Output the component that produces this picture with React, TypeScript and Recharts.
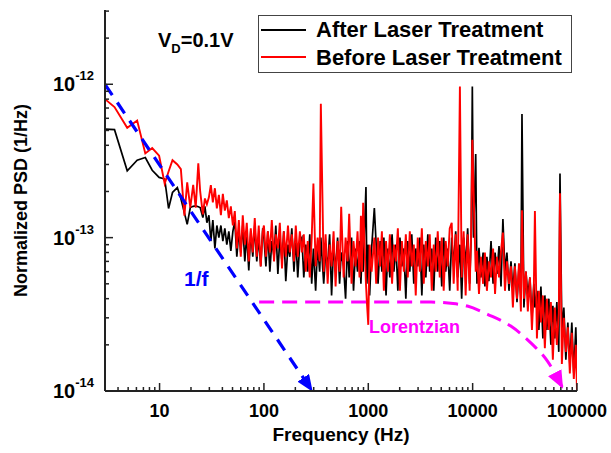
import React from 'react';
import { LineChart, Line, XAxis, YAxis, Legend } from 'recharts';

const FONT = '"Liberation Sans", Arial, Helvetica, sans-serif';
// PSD values below are given in units of 1e-14 1/Hz
const UNIT = 1e-14;

// frequency bins (Hz), shared by both measurements
const FREQ = [
  3, 3.7, 4.9, 6.1, 7.3, 8.5, 9.9, 11.2, 12.2, 13.3, 14.8, 16, 17.3, 18.4, 19.7, 21, 22.2, 23.5, 24.5,
  26, 27.2, 28.4, 29.7, 31, 32.4, 33.9, 35.4, 37, 38.7, 40.4, 42.2, 44.1, 46.1, 48.2, 50.4,
  52.6, 55, 57.5, 60, 62.7, 65.6, 68.5, 71.6, 74.8, 78.2, 81.7, 85.4, 89.2, 93.2, 97.4,
  100, 104.5, 109, 114, 119, 125, 130, 136, 142, 149, 155, 162, 170, 177, 185, 194, 202, 211, 221,
  231, 241, 252, 263, 275, 287, 298, 313, 327, 342, 351, 374, 390, 408, 426, 445, 465, 486, 508, 531,
  550, 580, 606, 633, 656, 691, 722, 755, 789, 824, 850, 870, 893, 950, 970, 1000, 1030, 1076, 1143,
  1190, 1240, 1300, 1350, 1410, 1480, 1540, 1610, 1690, 1760, 1840, 1920, 2010, 2100, 2190, 2290, 2390,
  2500, 2610, 2730, 2850, 2980, 3120, 3260, 3400, 3560, 3720, 3880, 4060, 4240, 4430, 4630, 4840, 5060,
  5280, 5520, 5770, 6030, 6300, 6580, 6880, 7190, 7550, 7850, 8200, 8570, 8960, 9360, 9700,
  9930, 10200, 10700, 11000, 11500, 12000, 12600, 13100, 13700, 14300, 15000, 15700, 16400, 17100, 17900,
  18700, 19500, 20400, 21300, 22300, 23300, 24300, 25400, 26600, 27800, 29000, 29700, 31000, 32400, 33800,
  35400, 37000, 38600, 39500, 41300, 43100, 45100, 47100, 49200, 51400, 53700, 56200, 58700, 61300, 64100,
  66900, 68700, 71600, 74800, 78200, 81700, 85400, 89200, 93200, 97400, 100000,
];

// After Laser Treatment (black)
const AFTER = [
  51, 50.6, 27.3, 32, 33.3, 27.5, 24.7, 24.1, 15.5, 19.7, 21.2, 18, 14.5, 12.2, 15.7, 16, 16.1, 15.9, 15.7,
  13.5, 16, 12.5, 14, 9.5, 13, 8.5, 12, 10, 12, 9.5, 11.5, 9, 11, 8.2, 11,
  12.8, 7.5, 11, 8, 12, 7, 10.5, 6.1, 11, 7.5, 12, 7, 10, 6.5, 11.5,
  10, 6.5, 11, 6, 9.5, 7.5, 12, 5.8, 10, 7, 11, 5.2, 9, 7.5, 11.5, 6, 10, 5.5, 9.5,
  10, 5.5, 9, 6, 10.5, 5, 8.5, 4.5, 9, 6, 10, 5, 8, 6.5, 10.5, 4.2, 9, 6, 10, 5,
  8, 6.5, 4, 9.5, 5.5, 10, 4.5, 8.5, 6, 9.5, 5, 8, 6, 21.4, 5, 9, 4.2, 8.5, 15.6,
  9, 5, 9.5, 6, 10, 4.2, 8.5, 5.5, 10.5, 6, 9, 4.5, 10, 6.5, 8.5, 4, 9.5,
  6, 10.5, 5, 8.5, 6.5, 10, 4.2, 9, 5.5, 10.5, 6, 8.5, 4.5, 10, 6, 9.5, 4.8,
  10, 6, 8.5, 4.5, 10, 6.5, 11, 5.5, 9, 4, 10, 6.5, 11.5, 5, 10.5,
  96.6, 10, 35.1, 5, 8.6, 5.5, 8, 4.8, 7.5, 5.2, 9.5, 5, 8, 5.8, 8.8,
  4.8, 13.2, 6, 8, 4.5, 7, 4.5, 6.8, 3.8, 6.5, 4.2, 64.1, 3.5, 6, 4.2,
  5.5, 3, 5, 3.5, 4.5, 2.5, 4.8, 2.2, 4.2, 2.5, 4, 2, 3.6, 2.2, 3.8,
  1.8, 26.2, 2.5, 3.5, 1.6, 2.8, 1.5, 2.8, 1.3, 2.6, 1.3,
];

// Before Laser Treatment (red)
const BEFORE = [
  80, 71, 52, 58, 35.4, 38.4, 34.2, 22.5, 27, 32, 30, 28, 13.9, 22.9, 15.7, 22.1, 15.7, 30.5, 20,
  14.2, 18, 16.5, 18.3, 22, 17, 21, 15.5, 19, 14, 19.3, 15, 17.5, 13.4, 16, 12,
  14.9, 8.5, 13, 7.5, 14, 9, 12.5, 7, 11.5, 8, 13.4, 7.5, 12, 6.5, 11,
  12, 7.5, 11, 8, 13, 7, 10.5, 8.5, 12.5, 6.3, 11, 7.5, 12, 8, 10.5, 7, 12, 7.5, 11,
  8, 10.5, 6, 9.5, 5.5, 10, 22.5, 6.5, 10, 7, 74.5, 6, 10.5, 5, 9, 6.5, 11, 4.8, 9.5, 6,
  15.9, 5.5, 10, 7, 14.3, 5, 9.5, 6.5, 11, 5.5, 13.9, 6, 16.9, 5, 3.8, 2.7, 9, 6, 10,
  5, 10, 6.5, 11, 4.5, 9.5, 6, 10.5, 5, 9, 7, 11.5, 4.5, 9.5, 6, 10.5, 5.5,
  11, 6.5, 9, 4.2, 10, 6, 11.5, 5, 9.5, 6.5, 10.5, 4.5, 9, 6, 11, 5.5, 10,
  4.5, 9.5, 6.5, 11.5, 12.5, 5, 10.5, 4.5, 96.6, 5.5, 11, 4.2, 10.5, 4.5, 12,
  43.5, 21, 6, 8.2, 4.3, 7.5, 5, 8, 4.5, 7, 5.5, 8.5, 4.3, 7.5, 5.5,
  8.2, 10.8, 4.5, 7, 5, 6.5, 3.5, 6.5, 4, 6.8, 3.3, 15.1, 4, 6, 3.3,
  5.5, 2.5, 4.8, 14.9, 2.2, 4.5, 2.8, 4.2, 1.9, 4, 2.5, 3.8, 1.6, 3.5, 2,
  3.2, 19.5, 1.5, 3, 1.8, 2.6, 1.3, 2.4, 1.2, 2, 1.0,
];

// guide lines
const ONE_OVER_F_FREQ = [3, 290];
const ONE_OVER_F_VAL = [100, 1];
const LORENTZ_FREQ = [90, 1000, 4000, 6500, 8900, 13900, 23200, 36100, 52300, 72800];
const LORENTZ_VAL = [3.8, 3.8, 3.8, 3.72, 3.58, 3.16, 2.65, 2.06, 1.56, 1.05];

const X_TICKS = [
  4, 5, 6, 7, 8, 9, 10, 20, 30, 40, 50, 60, 70, 80, 90, 100, 200, 300, 400, 500, 600, 700, 800, 900,
  1000, 2000, 3000, 4000, 5000, 6000, 7000, 8000, 9000, 10000, 20000, 30000, 40000, 50000, 60000,
  70000, 80000, 90000, 100000,
];
const Y_TICKS = [
  1e-14, 2e-14, 3e-14, 4e-14, 5e-14, 6e-14, 7e-14, 8e-14, 9e-14,
  1e-13, 2e-13, 3e-13, 4e-13, 5e-13, 6e-13, 7e-13, 8e-13, 9e-13,
  1e-12, 2e-12, 3e-12,
];

const SERIES = [
  { name: 'After Laser Treatment', color: '#000000' },
  { name: 'Before Laser Treatment', color: '#ff0000' },
];

const toRows = (fs: number[], vs: number[]) => fs.map((f, i) => ({ f, v: vs[i] * UNIT }));

const afterData = toRows(FREQ, AFTER);
const beforeData = toRows(FREQ, BEFORE);
const oneOverF = toRows(ONE_OVER_F_FREQ, ONE_OVER_F_VAL);
const lorentz = toRows(LORENTZ_FREQ, LORENTZ_VAL);

const AXIS = '#222';
const isDecade = (v: number) => Math.abs(Math.log10(v) - Math.round(Math.log10(v))) < 1e-6;

function BottomTick({ x, y, payload }: any) {
  const major = isDecade(payload.value);
  return (
    <g>
      <line x1={x} x2={x} y1={y} y2={y - (major ? 8 : 4)} stroke={AXIS} strokeWidth={1.5} />
      {major && (
        <text x={x} y={y + 26} textAnchor="middle" fontSize={18} fontWeight={700} fontFamily={FONT} fill="#000">
          {payload.value}
        </text>
      )}
    </g>
  );
}

function TopTick({ x, y, payload }: any) {
  const major = isDecade(payload.value);
  return <line x1={x} x2={x} y1={y} y2={y + (major ? 8 : 4)} stroke={AXIS} strokeWidth={1.5} />;
}

function LeftTick({ x, y, payload }: any) {
  const major = isDecade(payload.value);
  const exp = Math.round(Math.log10(payload.value));
  return (
    <g>
      <line x1={x} x2={x + (major ? 8 : 4)} y1={y} y2={y} stroke={AXIS} strokeWidth={1.5} />
      {major && (
        <text x={94} y={y + 7} textAnchor="end" fontWeight={700} fontFamily={FONT} fill="#000">
          <tspan fontSize={20}>10</tspan>
          <tspan fontSize={13} dy={-11}>{exp}</tspan>
        </text>
      )}
    </g>
  );
}

function RightTick({ x, y, payload }: any) {
  const major = isDecade(payload.value);
  return <line x1={x} x2={x - (major ? 8 : 4)} y1={y} y2={y} stroke={AXIS} strokeWidth={1.5} />;
}

function LegendBox() {
  return (
    <svg width={315} height={59} style={{ display: 'block' }}>
      <rect x={0.5} y={0.5} width={313} height={57} fill="#fff" stroke="#444" strokeWidth={1} />
      {SERIES.map((s, i) => (
        <g key={s.name}>
          <line x1={3} x2={48} y1={15 + i * 27} y2={15 + i * 27} stroke={s.color} strokeWidth={2} />
          <text x={58} y={22 + i * 28} fontSize={22} fontWeight={700} fontFamily={FONT} fill="#000">
            {s.name}
          </text>
        </g>
      ))}
    </svg>
  );
}

export default function App() {
  return (
    <div style={{ position: 'absolute', left: 0, top: 0, width: 611, height: 453, background: '#fff' }}>
      <LineChart width={611} height={453} margin={{ top: 10, right: 34, bottom: 12, left: 0 }}>
        <XAxis
          xAxisId="b"
          dataKey="f"
          type="number"
          scale="log"
          domain={[3, 100000]}
          allowDataOverflow
          ticks={X_TICKS}
          interval={0}
          height={50}
          tickSize={0}
          tickMargin={0}
          tickLine={false}
          tick={(p: any) => <BottomTick {...p} />}
          axisLine={{ stroke: AXIS, strokeWidth: 2 }}
        />
        <XAxis
          xAxisId="t"
          orientation="top"
          dataKey="f"
          type="number"
          scale="log"
          domain={[3, 100000]}
          allowDataOverflow
          ticks={X_TICKS}
          interval={0}
          height={0}
          tickSize={0}
          tickMargin={0}
          tickLine={false}
          tick={(p: any) => <TopTick {...p} />}
          axisLine={{ stroke: AXIS, strokeWidth: 2 }}
        />
        <YAxis
          yAxisId="l"
          dataKey="v"
          type="number"
          scale="log"
          domain={[1e-14, 3.05e-12]}
          allowDataOverflow
          ticks={Y_TICKS}
          interval={0}
          width={105}
          tickSize={0}
          tickMargin={0}
          tickLine={false}
          tick={(p: any) => <LeftTick {...p} />}
          axisLine={{ stroke: AXIS, strokeWidth: 2 }}
        />
        <YAxis
          yAxisId="r"
          orientation="right"
          dataKey="v"
          type="number"
          scale="log"
          domain={[1e-14, 3.05e-12]}
          allowDataOverflow
          ticks={Y_TICKS}
          interval={0}
          width={0}
          tickSize={0}
          tickMargin={0}
          tickLine={false}
          tick={(p: any) => <RightTick {...p} />}
          axisLine={{ stroke: AXIS, strokeWidth: 2 }}
        />
        <Legend
          layout="vertical"
          align="center"
          verticalAlign="middle"
          wrapperStyle={{ left: 258, top: 15, width: 315, height: 59 }}
          content={() => <LegendBox />}
        />
        <Line
          xAxisId="b"
          yAxisId="l"
          data={afterData}
          dataKey="v"
          name={SERIES[0].name}
          stroke={SERIES[0].color}
          strokeWidth={1.7}
          dot={false}
          activeDot={false}
          isAnimationActive={false}
        />
        <Line
          xAxisId="b"
          yAxisId="l"
          data={beforeData}
          dataKey="v"
          name={SERIES[1].name}
          stroke={SERIES[1].color}
          strokeWidth={1.9}
          dot={false}
          activeDot={false}
          isAnimationActive={false}
        />
        <Line
          xAxisId="b"
          yAxisId="l"
          data={lorentz}
          dataKey="v"
          type="monotone"
          stroke="#ff00ff"
          strokeWidth={3}
          strokeDasharray="15 8"
          markerEnd="url(#arrowMagenta)"
          dot={false}
          activeDot={false}
          legendType="none"
          isAnimationActive={false}
        />
        <Line
          xAxisId="b"
          yAxisId="l"
          data={oneOverF}
          dataKey="v"
          stroke="#0000ff"
          strokeWidth={3.2}
          strokeDasharray="13 9"
          markerEnd="url(#arrowBlue)"
          dot={false}
          activeDot={false}
          legendType="none"
          isAnimationActive={false}
        />
      </LineChart>
      <svg
        width={611}
        height={453}
        style={{ position: 'absolute', left: 0, top: 0, pointerEvents: 'none' }}
      >
        <defs>
          <marker id="arrowBlue" markerUnits="userSpaceOnUse" markerWidth={17} markerHeight={14} refX={16} refY={7} orient="auto" viewBox="0 0 17 14">
            <path d="M0,0 L17,7 L0,14 Z" fill="#0000ff" />
          </marker>
          <marker id="arrowMagenta" markerUnits="userSpaceOnUse" markerWidth={18} markerHeight={15} refX={17} refY={7.5} orient="auto" viewBox="0 0 18 15">
            <path d="M0,0 L18,7.5 L0,15 Z" fill="#ff00ff" />
          </marker>
        </defs>
        <text x={158} y={47} fontSize={20} fontWeight={700} fontFamily={FONT} fill="#000">
          V<tspan fontSize={13} dy={6}>D</tspan>
          <tspan dy={-6}>=0.1V</tspan>
        </text>
        <text x={184} y={286} fontSize={21} fontWeight={700} fontFamily={FONT} fill="#0000ff">1/f</text>
        <text x={369} y={333} fontSize={18} fontWeight={700} fontFamily={FONT} fill="#ff00ff">Lorentzian</text>
        <text x={341} y={441} textAnchor="middle" fontSize={19} fontWeight={700} fontFamily={FONT} fill="#000">
          Frequency (Hz)
        </text>
        <text
          x={0}
          y={0}
          transform="translate(27,200.5) rotate(-90)"
          textAnchor="middle"
          fontSize={18}
          fontWeight={700}
          fontFamily={FONT}
          fill="#000"
        >
          Normalized PSD (1/Hz)
        </text>
      </svg>
    </div>
  );
}
